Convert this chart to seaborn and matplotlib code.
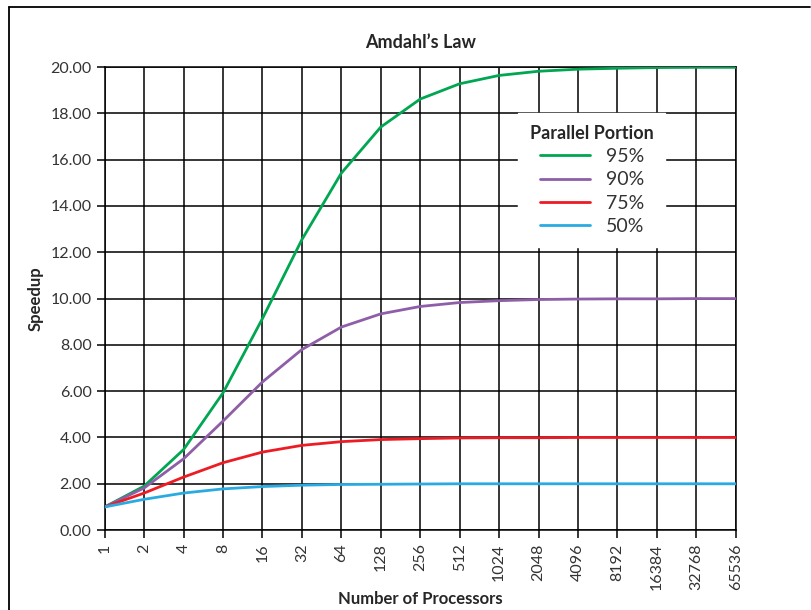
import seaborn as sns
import matplotlib.pyplot as plt
import pandas as pd
from matplotlib.lines import Line2D

processors = ['1', '2', '4', '8', '16', '32', '64', '128', '256', '512', '1024',
              '2048', '4096', '8192', '16384', '32768', '65536']
portions = ['95%', '90%', '75%', '50%']
speed_95 = [1.00, 1.90, 3.48, 5.93, 9.14, 12.55, 15.42, 17.41, 18.62, 19.28, 19.64,
            19.82, 19.91, 19.95, 19.98, 19.99, 19.99]
speed_90 = [1.00, 1.82, 3.08, 4.71, 6.40, 7.80, 8.77, 9.34, 9.66, 9.83, 9.91,
            9.96, 9.98, 9.99, 9.99, 10.00, 10.00]
speed_75 = [1.00, 1.60, 2.29, 2.91, 3.37, 3.66, 3.82, 3.91, 3.95, 3.98, 3.99,
            3.99, 4.00, 4.00, 4.00, 4.00, 4.00]
speed_50 = [1.00, 1.33, 1.60, 1.78, 1.88, 1.94, 1.97, 1.98, 1.99, 2.00, 2.00,
            2.00, 2.00, 2.00, 2.00, 2.00, 2.00]
colors = ['#00a651', '#8e5ea8', '#ed1c24', '#29abe2']

df = pd.concat([
    pd.DataFrame({'Processors': processors, 'Speedup': s, 'Parallel Portion': p})
    for p, s in zip(portions, [speed_95, speed_90, speed_75, speed_50])
])

sns.set_style('white')
plt.rcParams['font.family'] = ['Lato', 'DejaVu Sans']

fig = plt.figure(figsize=(8.12, 6.10), dpi=100)
ax = fig.add_axes([0.129, 0.131, 0.777, 0.759])

sns.lineplot(data=df, x='Processors', y='Speedup', hue='Parallel Portion',
             hue_order=portions, palette=colors, linewidth=2, ax=ax, zorder=3)

ax.set_xlim(0, len(processors) - 1)
ax.set_ylim(0, 20)
ax.set_yticks(range(0, 21, 2))
ax.set_yticklabels([f'{v:.2f}' for v in range(0, 21, 2)])
ax.set_xticks(range(len(processors)))
ax.set_xticklabels(processors, rotation=90)
ax.grid(True, color='black', linewidth=1.1)
ax.set_axisbelow(True)
for sp in ax.spines.values():
    sp.set_color('black')
    sp.set_linewidth(1.1)
ax.tick_params(axis='both', direction='out', length=6, width=1.1, color='black',
               labelsize=11.5, labelcolor='#333333', bottom=True, left=True)

ax.set_title("Amdahl\u2019s Law", fontsize=13, fontweight='bold', pad=14)
ax.set_xlabel('Number of Processors', fontsize=12, fontweight='bold', labelpad=1)
ax.set_ylabel('Speedup', fontsize=12, fontweight='bold', labelpad=5)

handles = [Line2D([0], [0], color=c, linewidth=2) for c in colors]
leg = ax.legend(handles, portions, title='Parallel Portion', loc='upper left',
                bbox_to_anchor=(0.64, 0.922), frameon=True, fancybox=False,
                fontsize=14, title_fontproperties={'weight': 'bold', 'size': 13},
                handlelength=2.6, labelspacing=0.33, borderpad=0.6, handletextpad=0.8)
leg.get_frame().set_facecolor('white')
leg.get_frame().set_edgecolor('white')
leg.get_frame().set_alpha(1)
leg.set_zorder(5)
for t in leg.get_texts():
    t.set_color('#333333')

# outer frame lines (top and left)
fig.add_artist(Line2D([0.011, 0.998], [0.988, 0.988], color='black', linewidth=1.3,
                      transform=fig.transFigure))
fig.add_artist(Line2D([0.011, 0.011], [0.0, 0.988], color='black', linewidth=1.3,
                      transform=fig.transFigure))

fig.savefig('out.png', dpi=100)
